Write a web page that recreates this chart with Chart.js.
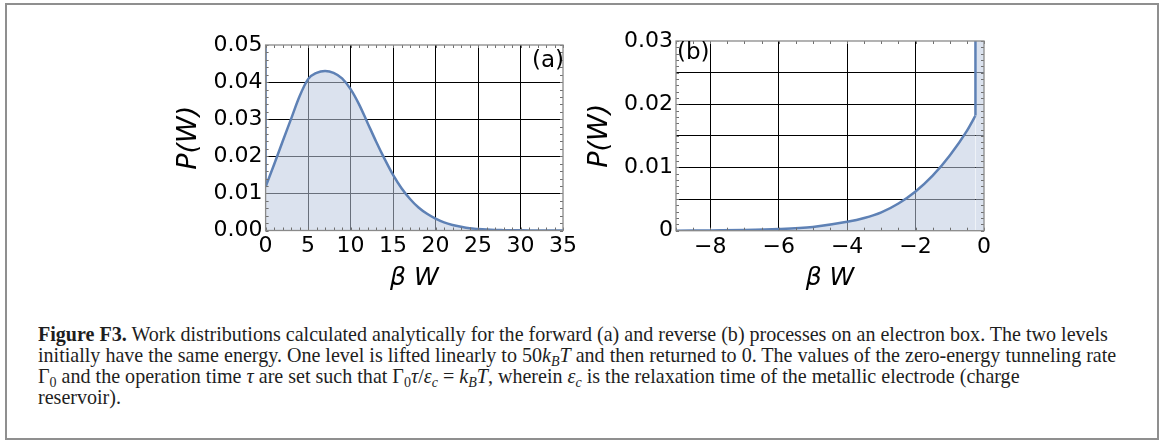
<!DOCTYPE html>
<html>
<head>
<meta charset="utf-8">
<script src="https://cdn.jsdelivr.net/npm/chart.js@4.4.1/dist/chart.umd.min.js"></script>
<style>
body { margin:0; background:#fff; width:1165px; height:441px; position:relative; overflow:hidden; }
#bingkai { position:absolute; left:5px; top:3px; width:1154px; height:437px; border:2px solid #8f8f8f; box-sizing:border-box; }
canvas { position:absolute; }
#grafikMaju { left:160px; top:20px; }
#grafikBalik { left:570px; top:20px; }
.panel { position:absolute; font-family:"DejaVu Sans"; font-size:23px; line-height:23px; color:#000; }
#labelA { left:525px; top:48px; width:39px; text-align:right; }
#labelB { left:677px; top:40px; }
#keterangan { position:absolute; left:38px; top:324px; font-family:"Liberation Serif"; font-size:21px; line-height:21px; color:#1e1e1e; white-space:nowrap; transform:scaleX(0.955); transform-origin:0 0; }
#keterangan sub { font-size:0.7em; line-height:0; vertical-align:-0.3em; }
</style>
</head>
<body>
<div id="bingkai"></div>
<canvas id="grafikMaju" width="420" height="285"></canvas>
<canvas id="grafikBalik" width="440" height="285"></canvas>
<div class="panel" id="labelA">(a)</div>
<div class="panel" id="labelB">(b)</div>
<div id="keterangan">
<b>Figure F3.</b> Work distributions calculated analytically for the forward (a) and reverse (b) processes on an electron box. The two levels<br>
initially have the same energy. One level is lifted linearly to 50<i>k</i><sub><i>B</i></sub><i>T</i> and then returned to 0. The values of the zero-energy tunneling rate<br>
Γ<sub>0</sub> and the operation time <i>τ</i> are set such that Γ<sub>0</sub><i>τ</i>/<i>ε</i><sub><i>c</i></sub> = <i>k</i><sub><i>B</i></sub><i>T</i>, wherein <i>ε</i><sub><i>c</i></sub> is the relaxation time of the metallic electrode (charge<br>
reservoir).
</div>
<script>
//data panel (a) : proses maju
var kerjaMaju = [0,1,2,3,4,5,6,7,8,9,10,11,12,13,14,15,16,17,18,19,20,21,22,23,24,25,26,27,28,29,30,31,32,33,34,35];
var peluangMaju = [0.0118,0.0178,0.0240,0.0301,0.0362,0.0408,0.0425,0.0430,0.0425,0.0410,0.0381,0.0340,0.0290,0.0240,0.0193,0.0150,0.0114,0.0085,0.0062,0.0045,0.0032,0.0022,0.0015,0.0010,0.0006,0.0004,0.00025,0.00015,0.0001,0.00006,0.00004,0.00002,0.00001,0,0,0];
//garis tegak (delta) di W = 0
var lonjakanMajuX = [0, 0];
var lonjakanMajuY = [0.0118, 0.05];

//data panel (b) : proses balik
var kerjaBalik = [-9,-8,-7,-6,-5,-4,-3.5,-3,-2.5,-2,-1.5,-1,-0.5,-0.25];
var peluangBalik = [0,0.00005,0.0001,0.00025,0.0006,0.0014,0.0020,0.0029,0.0043,0.0062,0.0087,0.0119,0.0158,0.0182];
var lonjakanBalikX = [-0.25, -0.25];
var lonjakanBalikY = [0.0182, 0.03];
var isiBalikX = [-0.25, 0];
var isiBalikY = [0.03, 0.03];

//tick dan label sumbu
var tickXMaju = [0,5,10,15,20,25,30,35];
var labelXMaju = ['0','5','10','15','20','25','30','35'];
var tickYMaju = [0,0.01,0.02,0.03,0.04,0.05];
var labelYMaju = ['0.00','0.01','0.02','0.03','0.04','0.05'];
var tickXBalik = [-9,-8,-7,-6,-5,-4,-3,-2,-1,0];
var labelXBalik = ['','\u22128','','\u22126','','\u22124','','\u22122','','0'];
var tickYBalik = [0,0.005,0.01,0.015,0.02,0.025,0.03];
var labelYBalik = ['0','','0.01','','0.02','','0.03'];

var warnaGaris = '#5e81b5';
var warnaIsi = 'rgba(190,202,224,0.55)';

//gabung array x dan y jadi titik
function gabung(xs, ys) {
    var hasil = [];
    for (i = 0; i < xs.length; i++) {
        hasil.push({x: xs[i], y: ys[i]});
    }
    return hasil;
}

//bikin daftar tick kecil
function tickKecil(awal, akhir, langkah) {
    var hasil = [];
    var n = Math.round((akhir - awal) / langkah);
    for (i = 0; i <= n; i++) {
        hasil.push(awal + i * langkah);
    }
    return hasil;
}

//plugin untuk bingkai abu-abu dan tick kecil ke dalam
var pluginBingkai = {
    id: 'bingkai',
    afterDatasetsDraw(chart, args, opsi) {
        var ctx = chart.ctx;
        var a = chart.chartArea;
        var sx = chart.scales.x;
        var sy = chart.scales.y;
        ctx.save();
        ctx.strokeStyle = '#6f6f6f';
        ctx.lineWidth = 1;
        opsi.minorX.forEach(v => {
            var px = Math.round(sx.getPixelForValue(v)) + 0.5;
            ctx.beginPath();
            ctx.moveTo(px, a.bottom); ctx.lineTo(px, a.bottom - 3);
            ctx.moveTo(px, a.top); ctx.lineTo(px, a.top + 3);
            ctx.stroke();
        });
        opsi.minorY.forEach(v => {
            var py = Math.round(sy.getPixelForValue(v)) + 0.5;
            ctx.beginPath();
            ctx.moveTo(a.left, py); ctx.lineTo(a.left + 3, py);
            ctx.moveTo(a.right, py); ctx.lineTo(a.right - 3, py);
            ctx.stroke();
        });
        ctx.strokeStyle = '#8a8a8a';
        ctx.lineWidth = 1.3;
        ctx.strokeRect(a.left, a.top, a.right - a.left, a.bottom - a.top);
        ctx.restore();
    }
};

Chart.defaults.font.family = 'DejaVu Sans';
Chart.defaults.color = '#000';

//bikin satu grafik
function buatGrafik(id, set) {
    var ctx = document.getElementById(id).getContext('2d');
    return new Chart(ctx, {
        type: 'line',
        data: { datasets: set.datasets },
        options: {
            responsive: false,
            animation: false,
            layout: { padding: set.padding },
            plugins: {
                legend: { display: false },
                tooltip: { enabled: false },
                bingkai: { minorX: set.minorX, minorY: set.minorY }
            },
            elements: { point: { radius: 0 } },
            scales: {
                x: {
                    type: 'linear',
                    min: set.tickX[0],
                    max: set.tickX[set.tickX.length - 1],
                    afterBuildTicks: s => { s.ticks = set.tickX.map(v => ({value: v})); },
                    afterFit: s => { s.height = set.tinggiX; },
                    border: { display: false },
                    grid: {
                        drawTicks: false,
                        lineWidth: 1,
                        color: c => (c.index === 0 || c.index === set.tickX.length - 1 || set.labelX[c.index] === '') ? 'rgba(0,0,0,0)' : '#000'
                    },
                    ticks: {
                        padding: 3,
                        autoSkip: false,
                        maxRotation: 0,
                        font: { size: 22 },
                        callback: (v, i) => set.labelX[i]
                    },
                    title: {
                        display: true,
                        text: '\u03b2 W',
                        font: { size: 25, style: 'italic' },
                        padding: { top: 0, bottom: 12 }
                    }
                },
                y: {
                    type: 'linear',
                    min: set.tickY[0],
                    max: set.tickY[set.tickY.length - 1],
                    afterBuildTicks: s => { s.ticks = set.tickY.map(v => ({value: v})); },
                    afterFit: s => { s.width = set.lebarY; },
                    border: { display: false },
                    grid: {
                        drawTicks: false,
                        lineWidth: 1,
                        color: c => (c.index === 0 || c.index === set.tickY.length - 1) ? 'rgba(0,0,0,0)' : '#000'
                    },
                    ticks: {
                        padding: 3,
                        autoSkip: false,
                        font: { size: 22 },
                        callback: (v, i) => set.labelY[i]
                    },
                    title: {
                        display: true,
                        text: 'P(W)',
                        font: { size: 27, style: 'italic' },
                        padding: { top: set.geserJudulY, bottom: 0 }
                    }
                }
            }
        },
        plugins: [pluginBingkai]
    });
}

//panel (a)
buatGrafik('grafikMaju', {
    padding: { left: 0, top: 25, right: 15, bottom: 0 },
    tinggiX: 74.5,
    lebarY: 105.6,
    geserJudulY: 13,
    tickX: tickXMaju, labelX: labelXMaju,
    tickY: tickYMaju, labelY: labelYMaju,
    minorX: tickKecil(0, 35, 1),
    minorY: tickKecil(0, 0.05, 0.002),
    datasets: [
        { data: gabung(lonjakanMajuX, lonjakanMajuY), borderColor: warnaGaris, borderWidth: 2.5, fill: false },
        { data: gabung(kerjaMaju, peluangMaju), borderColor: warnaGaris, borderWidth: 2.5, backgroundColor: warnaIsi, fill: 'origin', cubicInterpolationMode: 'monotone' }
    ]
});

//panel (b)
buatGrafik('grafikBalik', {
    padding: { left: 0, top: 21, right: 26, bottom: 0 },
    tinggiX: 74.3,
    lebarY: 106,
    geserJudulY: 13.5,
    tickX: tickXBalik, labelX: labelXBalik,
    tickY: tickYBalik, labelY: labelYBalik,
    minorX: tickKecil(-9, 0, 0.5),
    minorY: tickKecil(0, 0.03, 0.001),
    datasets: [
        { data: gabung(lonjakanBalikX, lonjakanBalikY), borderColor: warnaGaris, borderWidth: 2.5, fill: false },
        { data: gabung(isiBalikX, isiBalikY), borderWidth: 0, borderColor: 'rgba(0,0,0,0)', backgroundColor: warnaIsi, fill: 'origin' },
        { data: gabung(kerjaBalik, peluangBalik), borderColor: warnaGaris, borderWidth: 2.5, backgroundColor: warnaIsi, fill: 'origin', cubicInterpolationMode: 'monotone' }
    ]
});
</script>
</body>
</html>
